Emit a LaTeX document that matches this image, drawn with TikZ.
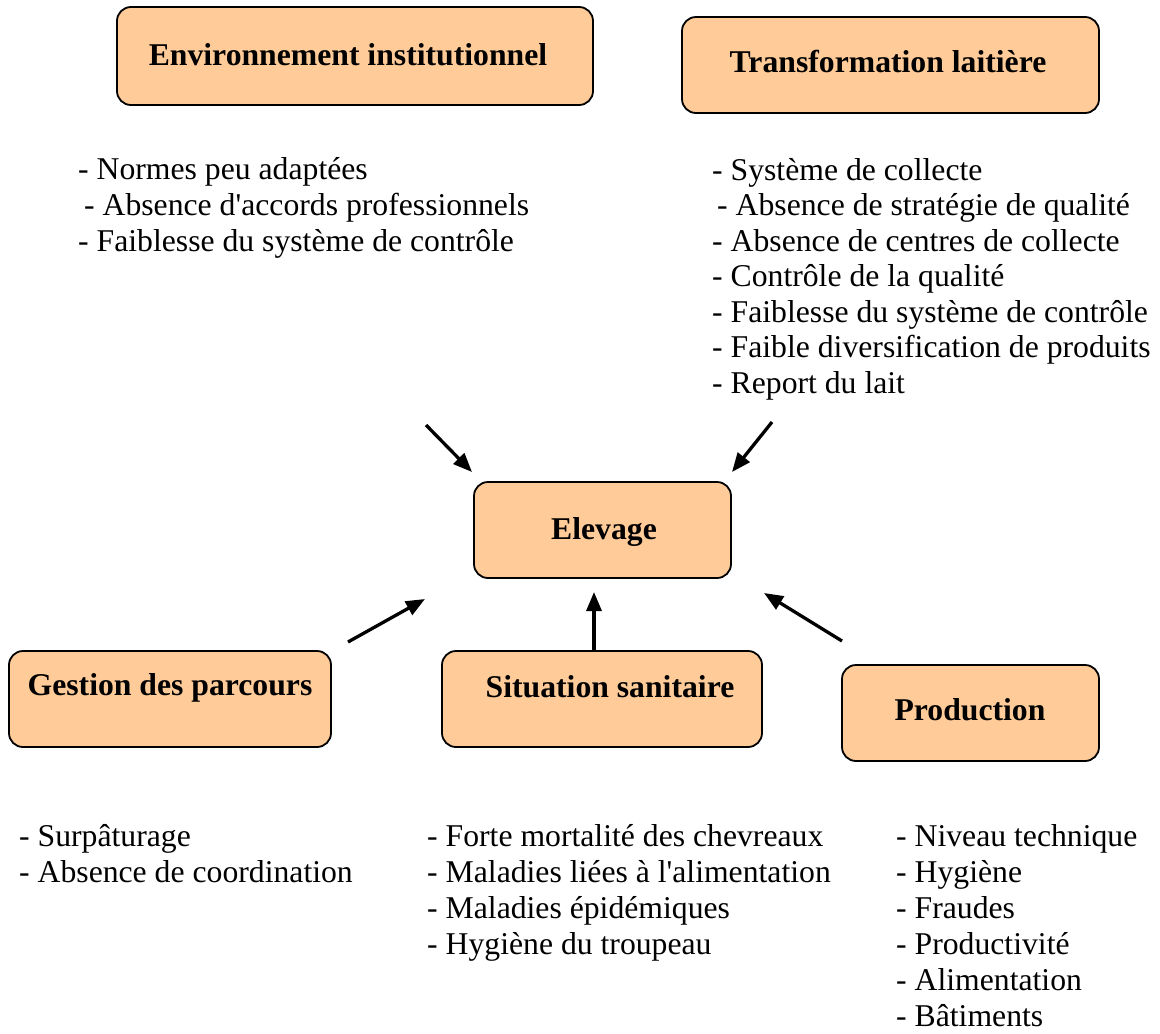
\documentclass[tikz,border=0pt]{standalone}
\usepackage{fontspec}
\setmainfont{Liberation Serif}[Ligatures=TeXOff]
\usetikzlibrary{arrows.meta}
\definecolor{peach}{RGB}{255,204,153}
\begin{document}
\begin{tikzpicture}[x=1pt,y=-1pt,
  box/.style={draw=black,line width=1.8pt,fill=peach,rounded corners=14pt,inner sep=0pt},
  boxtitle/.style={anchor=base,font=\bfseries\fontsize{31.7}{36}\selectfont,inner sep=0pt},
  item/.style={anchor=base west,inner sep=0pt,font=\fontsize{31.7}{36}\selectfont},
  arr/.style={line width=3.3pt,-{Triangle[length=19pt,width=15pt]}}]
\useasboundingbox[fill=white] (0,0) rectangle (1160,1034);

% boxes
\node[box,minimum width=476pt,minimum height=98pt] (env) at (355,56) {};
\node[box,minimum width=417pt,minimum height=96pt] (trans) at (890.5,65) {};
\node[box,minimum width=257pt,minimum height=96pt] (elev) at (602.5,530) {};
\node[box,minimum width=322pt,minimum height=96pt] (gest) at (170,699) {};
\node[box,minimum width=320pt,minimum height=96pt] (sit) at (602,699) {};
\node[box,minimum width=257pt,minimum height=96pt] (prod) at (970.5,713) {};

% titles
\node[boxtitle] (envT) at (348,65) {Environnement institutionnel};
\node[boxtitle] (transT) at (888,72) {Transformation laitière};
\node[boxtitle] (elevT) at (604,539) {Elevage};
\node[boxtitle] (gestT) at (170,695) {Gestion des parcours};
\node[boxtitle] (sitT) at (610,697) {Situation sanitaire};
\node[boxtitle] (prodT) at (970,720) {Production};

% top-left list
\node[item] (tl1) at (78,179) {- Normes peu adaptées};
\node[item] (tl2) at (84,215) {- Absence d'accords professionnels};
\node[item] (tl3) at (78,251) {- Faiblesse du système de contrôle};

% top-right list
\node[item] (tr1) at (712,180) {- Système de collecte};
\node[item] (tr2) at (717,215.5) {- Absence de stratégie de qualité};
\node[item] (tr3) at (712,251) {- Absence de centres de collecte};
\node[item] (tr4) at (712,286.5) {- Contrôle de la qualité};
\node[item] (tr5) at (712,322) {- Faiblesse du système de contrôle};
\node[item] (tr6) at (712,357.5) {- Faible diversification de produits};
\node[item] (tr7) at (712,393) {- Report du lait};

% bottom lists
\node[item] (bl1) at (19,846) {- Surpâturage};
\node[item] (bl2) at (19,882) {- Absence de coordination};

\node[item] (bm1) at (427,846) {- Forte mortalité des chevreaux};
\node[item] (bm2) at (427,882) {- Maladies liées à l'alimentation};
\node[item] (bm3) at (427,918) {- Maladies épidémiques};
\node[item] (bm4) at (427,954) {- Hygiène du troupeau};

\node[item] (br1) at (896,846) {- Niveau technique};
\node[item] (br2) at (896,882) {- Hygiène};
\node[item] (br3) at (896,918) {- Fraudes};
\node[item] (br4) at (896,954) {- Productivité};
\node[item] (br5) at (896,990) {- Alimentation};
\node[item] (br6) at (896,1026) {- Bâtiments};

% arrow coordinates
\coordinate (a1s) at (426,425);
\coordinate (a1e) at (472,472);
\coordinate (a2s) at (772,422);
\coordinate (a2e) at (732,472);
\coordinate (a3s) at (348,642);
\coordinate (a3e) at (425,599);
\coordinate (a4s) at (594,651);
\coordinate (a4e) at (594,592);
\coordinate (a5s) at (842,641);
\coordinate (a5e) at (764,593);

\draw[arr] (a1s) -- (a1e);
\draw[arr] (a2s) -- (a2e);
\draw[arr] (a3s) -- (a3e);
\draw[arr] (a4s) -- (a4e);
\draw[arr] (a5s) -- (a5e);
\end{tikzpicture}
\end{document}
